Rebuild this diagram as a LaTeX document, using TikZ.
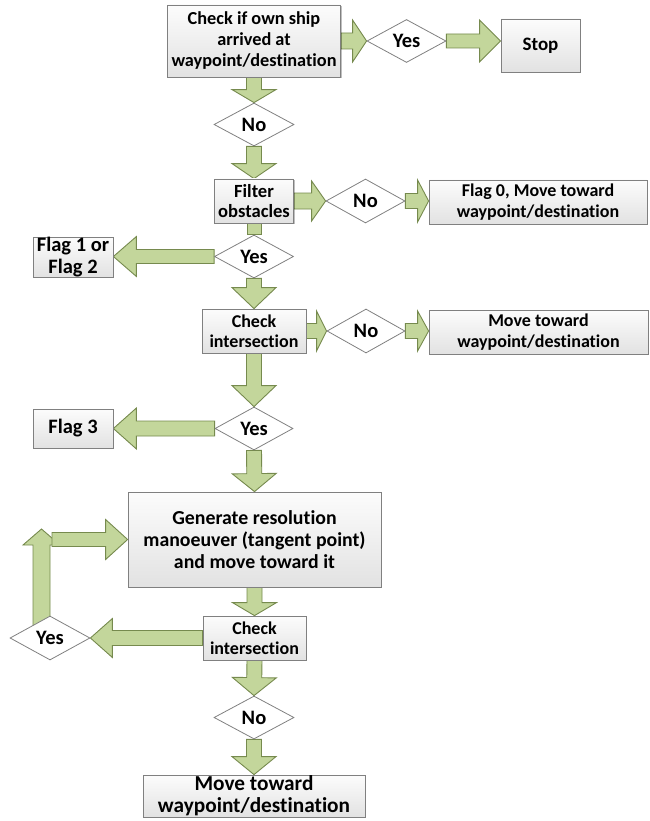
\documentclass[tikz,border=0pt]{standalone}
\usepackage{fontspec}
\setmainfont{Carlito}[Ligatures=NoCommon]
\usetikzlibrary{shapes.geometric,shadows,calc}
\definecolor{arrfill}{RGB}{195,214,155}
\definecolor{arrline}{RGB}{118,138,78}
\definecolor{boxline}{RGB}{128,128,128}
\definecolor{boxtop}{RGB}{252,252,252}
\definecolor{boxbot}{RGB}{226,226,226}
\pgfdeclarelayer{bg}
\pgfsetlayers{bg,main}
\newcommand{\fsz}[2]{\fontsize{#1}{#2}\selectfont\bfseries}
\tikzset{
  blockarrow/.style={fill=arrfill,draw=arrline,line width=0.9pt,line join=miter},
  procbox/.style={rectangle,draw=boxline,line width=0.8pt,top color=boxtop,bottom color=boxbot,
    drop shadow={shadow xshift=1.2pt,shadow yshift=-1.2pt,opacity=0.25,fill=black},
    inner sep=0pt,align=center,font=\fsz{18.3}{21}},
  decbox/.style={diamond,aspect=1.8,draw=boxline,line width=0.8pt,fill=white,
    inner sep=0pt,align=center,font=\fsz{20.5}{22}},
}
% #1 from, #2 to, #3 body half width, #4 head half width, #5 head length
\newcommand{\blockarr}[5]{%
  \path (#1); \pgfgetlastxy{\ax}{\ay}%
  \path (#2); \pgfgetlastxy{\bx}{\by}%
  \pgfmathsetmacro\ang{atan2(\by-\ay,\bx-\ax)}%
  \pgfmathsetmacro\len{veclen(\bx-\ax,\by-\ay)}%
  \filldraw[blockarrow,shift={(\ax,\ay)},rotate=\ang]
    (0pt,-#3pt) -- ({\len pt-#5pt},-#3pt) -- ({\len pt-#5pt},-#4pt) -- (\len pt,0pt)
    -- ({\len pt-#5pt},#4pt) -- ({\len pt-#5pt},#3pt) -- (0pt,#3pt) -- cycle;
}
\begin{document}
\begin{tikzpicture}[x=1pt,y=-1pt]
\useasboundingbox (0,0) rectangle (649,821);
% nodes
\node[procbox,minimum width=173pt,minimum height=72pt] (box1) at (254,41) {Check if own ship\\arrived at\\waypoint/destination};
\node[decbox,minimum width=79pt,minimum height=43pt] (yes1) at (406.5,41) {Yes};
\node[procbox,minimum width=79pt,minimum height=53pt,font=\fsz{19}{22}] (stop) at (540.5,45.5) {Stop};
\node[decbox,minimum width=80pt,minimum height=43pt] (no1) at (254,124.5) {No};
\node[procbox,minimum width=79pt,minimum height=44pt,font=\fsz{18.6}{20.5}] (filter) at (254,201) {Filter\\obstacles};
\node[decbox,minimum width=79pt,minimum height=44pt] (no2) at (365.5,201) {No};
\node[procbox,minimum width=218pt,minimum height=44pt,font=\fsz{18}{20.5}] (flag0) at (538,202) {Flag 0, Move toward\\waypoint/destination};
\node[decbox,minimum width=79pt,minimum height=43pt] (yes2) at (254,256.5) {Yes};
\node[procbox,minimum width=80pt,minimum height=38pt,font=\fsz{20.5}{22}] (flag1) at (73,257) {Flag 1 or\\Flag 2};
\node[procbox,minimum width=104pt,minimum height=44pt,font=\fsz{18}{20}] (check1) at (254,331) {Check\\intersection};
\node[decbox,minimum width=78pt,minimum height=44pt] (no3) at (366,331) {No};
\node[procbox,minimum width=219pt,minimum height=44pt,font=\fsz{18}{20.5}] (move2) at (538.5,332) {Move toward\\waypoint/destination};
\node[decbox,minimum width=78pt,minimum height=43pt] (yes3) at (254,428.5) {Yes};
\node[procbox,minimum width=80pt,minimum height=39pt,font=\fsz{20.5}{22}] (flag3) at (73,428.5) {Flag 3};
\node[procbox,minimum width=253pt,minimum height=95pt,font=\fsz{19.8}{22}] (gen) at (254.5,539.5) {Generate resolution\\manoeuver (tangent point)\\and move toward it};
\node[procbox,minimum width=103pt,minimum height=44pt,font=\fsz{18}{20}] (check2) at (254.5,638) {Check\\intersection};
\node[decbox,minimum width=80pt,minimum height=44pt] (yes4) at (50,638) {Yes};
\node[decbox,minimum width=80pt,minimum height=43pt] (no5) at (254,717.5) {No};
\node[procbox,minimum width=222pt,minimum height=42pt,font=\fsz{21.3}{22}] (final) at (254,796) {Move toward\\waypoint/destination};
\coordinate (loopA) at (41.5,628);
\coordinate (loopB) at (41.5,529);
\coordinate (loopC) at (52,539.5);
% arrows
\begin{pgfonlayer}{bg}
\blockarr{box1.east}{yes1.west}{8}{21}{14}
\blockarr{yes1.east}{yes1.east -| stop.west}{7}{21}{21}
\blockarr{box1.south}{no1.north}{7.5}{22}{13}
\blockarr{no1.south}{filter.north}{7.5}{22}{15}
\blockarr{filter.east}{no2.west}{8}{20}{14}
\blockarr{no2.east}{no2.east -| flag0.west}{7.5}{21}{11}
\blockarr{filter.south}{yes2.north}{7}{7}{0}
\blockarr{yes2.west}{yes2.west -| flag1.east}{7}{20}{23}
\blockarr{yes2.south}{check1.north}{7.5}{22}{21}
\blockarr{check1.east}{no3.west}{7.5}{20}{10}
\blockarr{no3.east}{no3.east -| move2.west}{7.5}{20}{11}
\blockarr{check1.south}{yes3.north}{7.5}{22}{21}
\blockarr{yes3.west}{yes3.west -| flag3.east}{7.5}{20.5}{23}
\blockarr{yes3.south}{gen.north}{7.5}{22}{18}
\blockarr{gen.south}{check2.north}{7.5}{22}{13}
\blockarr{check2.west}{check2.west -| yes4.east}{7.5}{19.5}{22}
\blockarr{check2.south}{no5.north}{7.5}{22}{18}
\blockarr{no5.south}{final.north}{7.5}{22}{18}
\blockarr{loopA}{loopB}{8.5}{18.5}{16}
\blockarr{loopC}{gen.west}{7}{20}{22}
\end{pgfonlayer}
\end{tikzpicture}
\end{document}
